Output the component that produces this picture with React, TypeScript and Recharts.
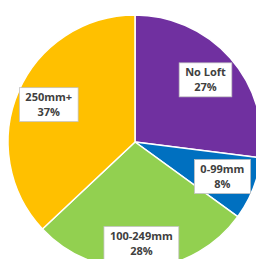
import React from 'react';
import { PieChart, Pie, Cell } from 'recharts';

const CATEGORIES = ['No Loft', '0-99mm', '100-249mm', '250mm+'];
const SHARES = [27, 8, 28, 37];
const COLORS = ['#7030A0', '#0070C0', '#92D050', '#FFC000'];

const FONT = 'bold 11px "Open Sans"';
const RADIAN = Math.PI / 180;

let ctx: CanvasRenderingContext2D | null = null;
const textWidth = (s: string) => {
  if (!ctx) ctx = document.createElement('canvas').getContext('2d');
  if (!ctx) return s.length * 6.5;
  ctx.font = FONT;
  return ctx.measureText(s).width;
};

const renderLabel = (props: any) => {
  const { cx, cy, midAngle, outerRadius, index, name, value } = props;
  // bottom label sits a bit further out than the rest
  const r = outerRadius * (index === 2 ? 0.8 : 0.74);
  const x = cx + r * Math.cos(-midAngle * RADIAN);
  const y = cy + r * Math.sin(-midAngle * RADIAN);
  const pct = `${value}%`;
  const w = Math.max(textWidth(name), textWidth(pct)) + 12;
  const h = 34;
  return (
    <g key={`lbl-${index}`}>
      <rect x={x - w / 2} y={y - h / 2} width={w} height={h} fill="#ffffff" stroke="#bfbfbf" strokeWidth={0.75} />
      <text
        x={x}
        y={y}
        textAnchor="middle"
        fill="#404040"
        style={{ font: FONT }}
      >
        <tspan x={x} dy={-3.5}>{name}</tspan>
        <tspan x={x} dy={15}>{pct}</tspan>
      </text>
    </g>
  );
};

export default function App() {
  const data = CATEGORIES.map((name, i) => ({ name, value: SHARES[i] }));

  return (
    <div style={{ position: 'absolute', left: 0, top: 0, width: 256, height: 259, background: '#fff' }}>
      <PieChart width={256} height={259} margin={{ top: 0, right: 0, bottom: 0, left: 0 }}>
        <Pie
          data={data}
          dataKey="value"
          nameKey="name"
          cx={135}
          cy={142}
          outerRadius={127}
          startAngle={90}
          endAngle={-270}
          stroke="#ffffff"
          strokeWidth={1.5}
          label={renderLabel}
          labelLine={false}
          isAnimationActive={false}
        >
          {data.map((_, i) => (
            <Cell key={`cell-${i}`} fill={COLORS[i]} />
          ))}
        </Pie>
      </PieChart>
    </div>
  );
}
